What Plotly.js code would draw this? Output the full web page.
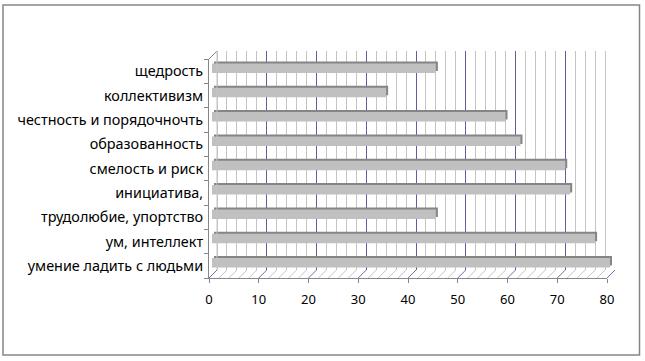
<!DOCTYPE html>
<html><head><meta charset="utf-8">
<script src="https://cdn.plot.ly/plotly-3.0.1.min.js"></script>
<style>html,body{margin:0;padding:0;background:#fff}#c{width:645px;height:361px}</style>
</head><body><div id="c"></div>
<script>
// Data (bottom to top)
const categories = ["умение ладить с людьми","ум, интеллект","трудолюбие, упортство","инициатива,","смелость и риск","образованность","честность и порядочночть","коллективизм","щедрость"];
const values = [80, 77, 45, 72, 71, 62, 59, 35, 45];
const xTicks = [0,10,20,30,40,50,60,70,80];

const W = 645, H = 361;
const px = v => v / W, py = v => 1 - v / H;
// front plane in pixels
const F = {x0: 209, x1: 607, yb: 278, yt: 59};
const dom = (dx, dy) => ({x: [px(F.x0 + dx), px(F.x1 + dx)], y: [py(F.yb - dy), py(F.yt - dy)]});
const frontDom = dom(0, 0), backDom = dom(8, 8), faceDom = dom(3, 3), topDom = dom(5, 5);
const xMax = 80;
const font = {family: "Noto Sans, Open Sans, sans-serif", size: 13, color: "#000"};
const yFont = {family: "Noto Sans, Open Sans, sans-serif", size: 14.4, color: "#000"};

const hidden = (d, extra) => Object.assign({domain: d, visible: false, fixedrange: true}, extra || {});

const traces = [
  {type: "scatter", x: [0], y: [0], xaxis: "x2", yaxis: "y2", mode: "markers", marker: {opacity: 0}, hoverinfo: "skip", showlegend: false},
  {type: "bar", orientation: "h", y: categories, x: values, xaxis: "x3", yaxis: "y3", width: 0.39,
   marker: {color: "#858585", line: {width: 0}}, hoverinfo: "skip", showlegend: false},
  {type: "bar", orientation: "h", y: categories, x: values, xaxis: "x4", yaxis: "y4", width: 0.39,
   marker: {color: "#c0c0c0", line: {width: 0}}, showlegend: false},
  {type: "scatter", x: [0], y: [categories[0]], xaxis: "x", yaxis: "y", mode: "markers", marker: {opacity: 0}, hoverinfo: "skip", showlegend: false}
];

const shapes = [];
const fx = v => F.x0 + (F.x1 - F.x0) * v / xMax;
for (let v = 0; v <= xMax; v += 2) {
  const major = v % 10 === 0;
  shapes.push({type: "line", xref: "paper", yref: "paper",
    x0: px(fx(v)), y0: py(F.yb), x1: px(fx(v) + 8), y1: py(F.yb - 8),
    line: {color: major ? "#7070a8" : "#c4c4c4", width: 1}});
}
shapes.push({type: "line", xref: "paper", yref: "paper", x0: px(F.x0), y0: py(F.yt), x1: px(F.x0 + 8), y1: py(F.yt - 8), line: {color: "#868686", width: 1}});
shapes.push({type: "line", xref: "paper", yref: "paper", x0: px(F.x0 + 8), y0: py(F.yt - 8), x1: px(F.x0 + 8), y1: py(F.yb - 8), line: {color: "#c4c4c4", width: 1}});
shapes.push({type: "rect", xref: "paper", yref: "paper", x0: px(3), y0: py(355), x1: px(639.5), y1: py(5), line: {color: "#878787", width: 1.5}, fillcolor: "rgba(0,0,0,0)"});

const layout = {
  width: W, height: H, margin: {l: 0, r: 0, t: 0, b: 0},
  paper_bgcolor: "#fff", plot_bgcolor: "rgba(0,0,0,0)",
  showlegend: false, font: font, barmode: "overlay",
  xaxis: {domain: frontDom.x, range: [0, xMax], anchor: "y", tickvals: xTicks, ticks: "outside", ticklen: 4, tickcolor: "#868686",
    showline: true, linecolor: "#868686", linewidth: 1, showgrid: false, zeroline: false, tickfont: font, ticklabelstandoff: 5, fixedrange: true},
  yaxis: {domain: frontDom.y, range: [-0.5, categories.length - 0.5], anchor: "x", type: "category", categoryorder: "array", categoryarray: categories,
    tickson: "boundaries", ticks: "outside", ticklen: 4, tickcolor: "#868686", showline: true, linecolor: "#868686", linewidth: 1,
    showgrid: false, zeroline: false, tickfont: yFont, ticklabelstandoff: 2, fixedrange: true},
  xaxis2: {domain: backDom.x, range: [0, xMax], anchor: "y2", dtick: 10, tick0: 0, showgrid: true, gridcolor: "#5f5f9c", gridwidth: 1,
    minor: {dtick: 2, showgrid: true, gridcolor: "#c4c4c4", gridwidth: 1},
    zeroline: true, zerolinecolor: "#c4c4c4", zerolinewidth: 1, showticklabels: false, ticks: "", showline: false, fixedrange: true},
  yaxis2: hidden(backDom.y, {range: [0, 1], anchor: "x2"}),
  xaxis3: hidden(topDom.x, {range: [0, xMax], anchor: "y3"}),
  yaxis3: hidden(topDom.y, {range: [-0.5, categories.length - 0.5], anchor: "x3", type: "category", categoryorder: "array", categoryarray: categories}),
  xaxis4: hidden(faceDom.x, {range: [0, xMax], anchor: "y4"}),
  yaxis4: hidden(faceDom.y, {range: [-0.5, categories.length - 0.5], anchor: "x4", type: "category", categoryorder: "array", categoryarray: categories}),
  shapes: shapes
};

Plotly.newPlot("c", traces, layout, {staticPlot: true, displayModeBar: false});
</script></body></html>
